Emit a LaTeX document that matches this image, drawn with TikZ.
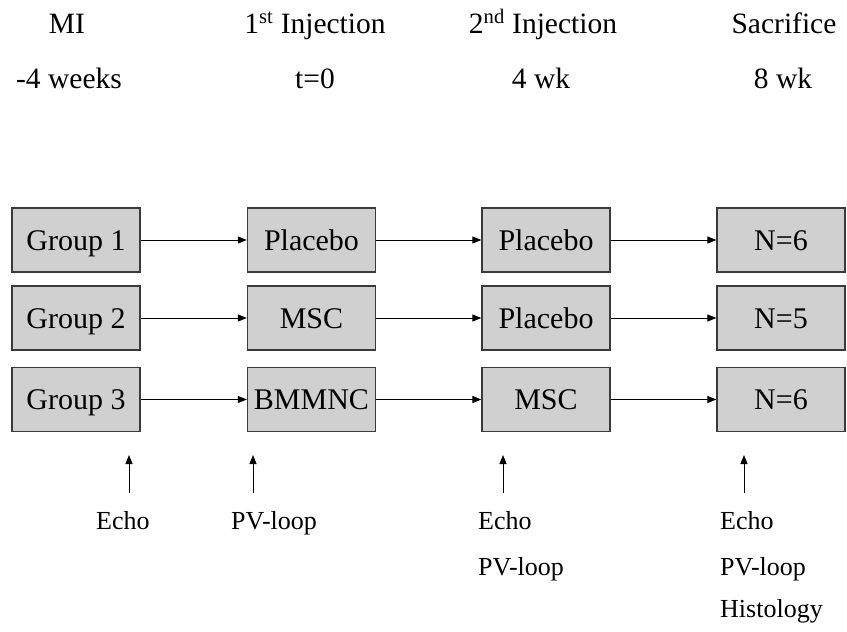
\documentclass[tikz,border=0pt]{standalone}
\usepackage{fontspec}
\setmainfont{Liberation Serif}
\usetikzlibrary{arrows.meta}
\definecolor{boxfill}{HTML}{D0D0D0}
\definecolor{boxline}{HTML}{3A3A3A}
\tikzset{
  stagebox/.style={draw=boxline, line width=1.3pt, fill=boxfill, minimum width=128pt, minimum height=64pt, inner sep=0pt, text height=20pt, text depth=0pt, font=\fontsize{30}{33}\selectfont},
  hdr/.style={font=\fontsize{29.5}{32}\selectfont, inner sep=0pt, anchor=base},
  lbl/.style={font=\fontsize{26}{30}\selectfont, inner sep=0pt, anchor=base west},
  flow/.style={line width=0.9pt, -{Triangle[length=9pt,width=7pt]}},
}
\begin{document}
\begin{tikzpicture}[x=1pt,y=-1pt]
\useasboundingbox (0,0) rectangle (847,632);
% headers
\node[hdr] (h1) at (67,33) {MI};
\node[hdr] (h2) at (315,33) {1\textsuperscript{st} Injection};
\node[hdr] (h3) at (543,33) {2\textsuperscript{nd} Injection};
\node[hdr] (h4) at (784,33) {Sacrifice};
\node[hdr] (t1) at (69,88) {-4 weeks};
\node[hdr] (t2) at (315,88) {t=0};
\node[hdr] (t3) at (541,88) {4 wk};
\node[hdr] (t4) at (783,88) {8 wk};
% boxes
\node[stagebox] (g1) at (76,240) {Group 1};
\node[stagebox] (g2) at (76,318) {Group 2};
\node[stagebox] (g3) at (76,399.5) {Group 3};
\node[stagebox] (a1) at (311.5,240) {Placebo};
\node[stagebox] (a2) at (311.5,318) {MSC};
\node[stagebox] (a3) at (311.5,399.5) {BMMNC};
\node[stagebox] (b1) at (546,240) {Placebo};
\node[stagebox] (b2) at (546,318) {Placebo};
\node[stagebox] (b3) at (546,399.5) {MSC};
\node[stagebox] (c1) at (781,240) {N=6};
\node[stagebox] (c2) at (781,318) {N=5};
\node[stagebox] (c3) at (781,399.5) {N=6};
\foreach \r in {1,2,3}{
  \draw[flow] (g\r) -- (a\r);
  \draw[flow] (a\r) -- (b\r);
  \draw[flow] (b\r) -- (c\r);
}
% measurement arrows
\coordinate (m1s) at (129,493); \coordinate (m1e) at (129,455);
\coordinate (m2s) at (253,493); \coordinate (m2e) at (253,455);
\coordinate (m3s) at (503,493); \coordinate (m3e) at (503,455);
\coordinate (m4s) at (744,493); \coordinate (m4e) at (744,455);
\foreach \i in {1,2,3,4}{ \draw[flow] (m\i s) -- (m\i e); }
% measurement labels
\node[lbl] (e1) at (96,529) {Echo};
\node[lbl] (p1) at (231,529) {PV-loop};
\node[lbl] (e3) at (478,529) {Echo};
\node[lbl] (p3) at (478,575) {PV-loop};
\node[lbl] (e4) at (720,529) {Echo};
\node[lbl] (p4) at (720,575) {PV-loop};
\node[lbl] (x4) at (720,617) {Histology};
\end{tikzpicture}
\end{document}
